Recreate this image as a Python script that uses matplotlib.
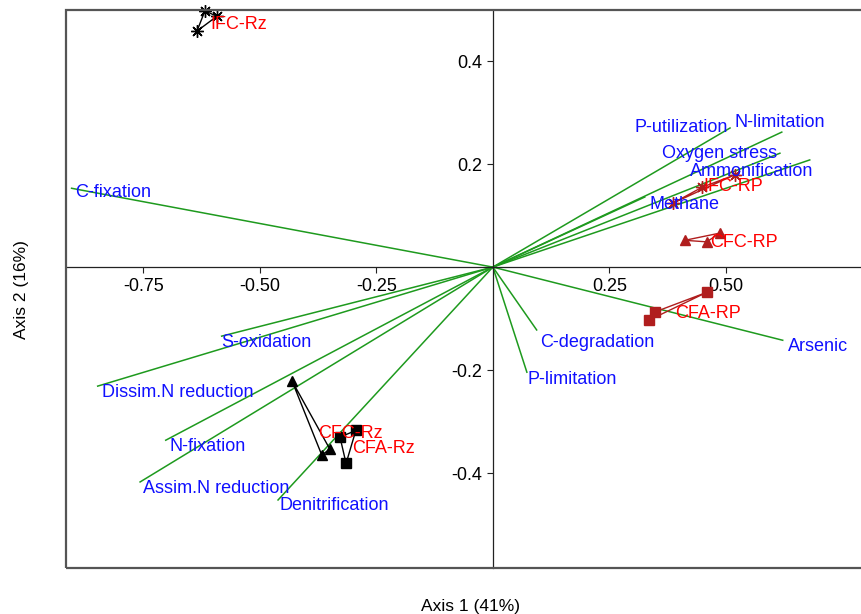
import matplotlib
matplotlib.use("Agg")
import matplotlib.pyplot as plt
from matplotlib.patches import Rectangle

plt.rcParams['font.family'] = ['Liberation Sans', 'DejaVu Sans']

# environmental vectors (PCA loadings)
var_names = ['C-fixation', 'S-oxidation', 'Dissim.N reduction', 'N-fixation',
             'Assim.N reduction', 'Denitrification', 'C-degradation',
             'P-limitation', 'Arsenic', 'P-utilization', 'N-limitation',
             'Oxygen stress', 'Ammonification', 'Methane']
var_x = [-0.904, -0.582, -0.848, -0.702, -0.757, -0.461, 0.094,
         0.073, 0.622, 0.509, 0.620, 0.616, 0.680, 0.326]
var_y = [0.153, -0.134, -0.231, -0.336, -0.417, -0.452, -0.122,
         -0.204, -0.142, 0.270, 0.262, 0.221, 0.208, 0.136]
# where the label of each vector sits
lab_x = [-0.897, -0.582, -0.839, -0.693, -0.751, -0.457, 0.101,
         0.075, 0.633, 0.303, 0.519, 0.363, 0.423, 0.337]
lab_y = [0.144, -0.146, -0.243, -0.348, -0.429, -0.462, -0.146,
         -0.219, -0.155, 0.270, 0.280, 0.221, 0.186, 0.122]

# sample scores, 3 replicates per group
groups = ['IFC-Rz', 'CFC-Rz', 'CFA-Rz', 'IFC-RP', 'CFC-RP', 'CFA-RP']
grp_x = [[-0.635, -0.618, -0.592],
         [-0.431, -0.367, -0.350],
         [-0.328, -0.294, -0.315],
         [0.386, 0.449, 0.519],
         [0.412, 0.487, 0.459],
         [0.459, 0.348, 0.335]]
grp_y = [[0.458, 0.497, 0.487],
         [-0.221, -0.365, -0.353],
         [-0.330, -0.317, -0.381],
         [0.124, 0.155, 0.179],
         [0.052, 0.066, 0.049],
         [-0.049, -0.087, -0.103]]
grp_lab_x = [-0.607, -0.376, -0.303, 0.451, 0.466, 0.391]
grp_lab_y = [0.470, -0.322, -0.353, 0.157, 0.047, -0.091]

asterisk = (8, 2, 0)
grp_marker = [asterisk, '^', 's', asterisk, '^', 's']
grp_color = ['black', 'black', 'black', '#B01E1E', '#B01E1E', '#B01E1E']
grp_msize = [9, 7, 7, 9, 7, 7]

fig = plt.figure(figsize=(8.61, 6.14), dpi=100)
ax = fig.add_axes([66/861, 46/614, 1 - 66/861, 558/614])
ax.set_xlim(-0.916, 0.790)
ax.set_ylim(-0.584, 0.499)

# vectors
for i in range(len(var_names)):
    ax.plot([0, var_x[i]], [0, var_y[i]], color='#1E9A1E', lw=1.1, zorder=2)
    ax.text(lab_x[i], lab_y[i], var_names[i], color='#1010FF', fontsize=13,
            ha='left', va='center', zorder=5)

# sample groups
for i in range(len(groups)):
    xs = grp_x[i] + [grp_x[i][0]]
    ys = grp_y[i] + [grp_y[i][0]]
    ax.plot(xs, ys, color=grp_color[i], lw=1, zorder=3, clip_on=False)
    ax.plot(grp_x[i], grp_y[i], ls='none', marker=grp_marker[i],
            ms=grp_msize[i], color=grp_color[i], mec=grp_color[i],
            mew=1, zorder=4, clip_on=False)
    ax.text(grp_lab_x[i], grp_lab_y[i], groups[i], color='#FF0000',
            fontsize=13, ha='left', va='center', zorder=6)

# axes through origin
for side in ['right', 'top']:
    ax.spines[side].set_visible(False)
ax.spines['left'].set_position(('data', 0))
ax.spines['bottom'].set_position(('data', 0))
ax.spines['left'].set_color('#222222')
ax.spines['bottom'].set_color('#222222')
ax.spines['left'].set_linewidth(0.9)
ax.spines['bottom'].set_linewidth(0.9)

ax.set_xticks([-0.75, -0.5, -0.25, 0.25, 0.5])
ax.set_xticklabels(['-0.75', '-0.50', '-0.25', '0.25', '0.50'])
ax.set_yticks([-0.4, -0.2, 0.2, 0.4])
ax.set_yticklabels(['-0.4', '-0.2', '0.2', '0.4'])
ax.tick_params(labelsize=13, length=4, width=0.8, color='#222222')

# outer frame (right edge runs off the image)
ax.add_patch(Rectangle((0, 0), 1.05, 1.0, transform=ax.transAxes, fill=False,
                       edgecolor='#555555', lw=1.6, clip_on=False, zorder=10))

fig.text(471/861, 1 - 606/614, 'Axis 1 (41%)', fontsize=12.5, ha='center',
         va='center')
fig.text(22/861, 1 - 290/614, 'Axis 2 (16%)', fontsize=12.5, ha='center',
         va='center', rotation=90)

fig.savefig('out.png', dpi=100)
